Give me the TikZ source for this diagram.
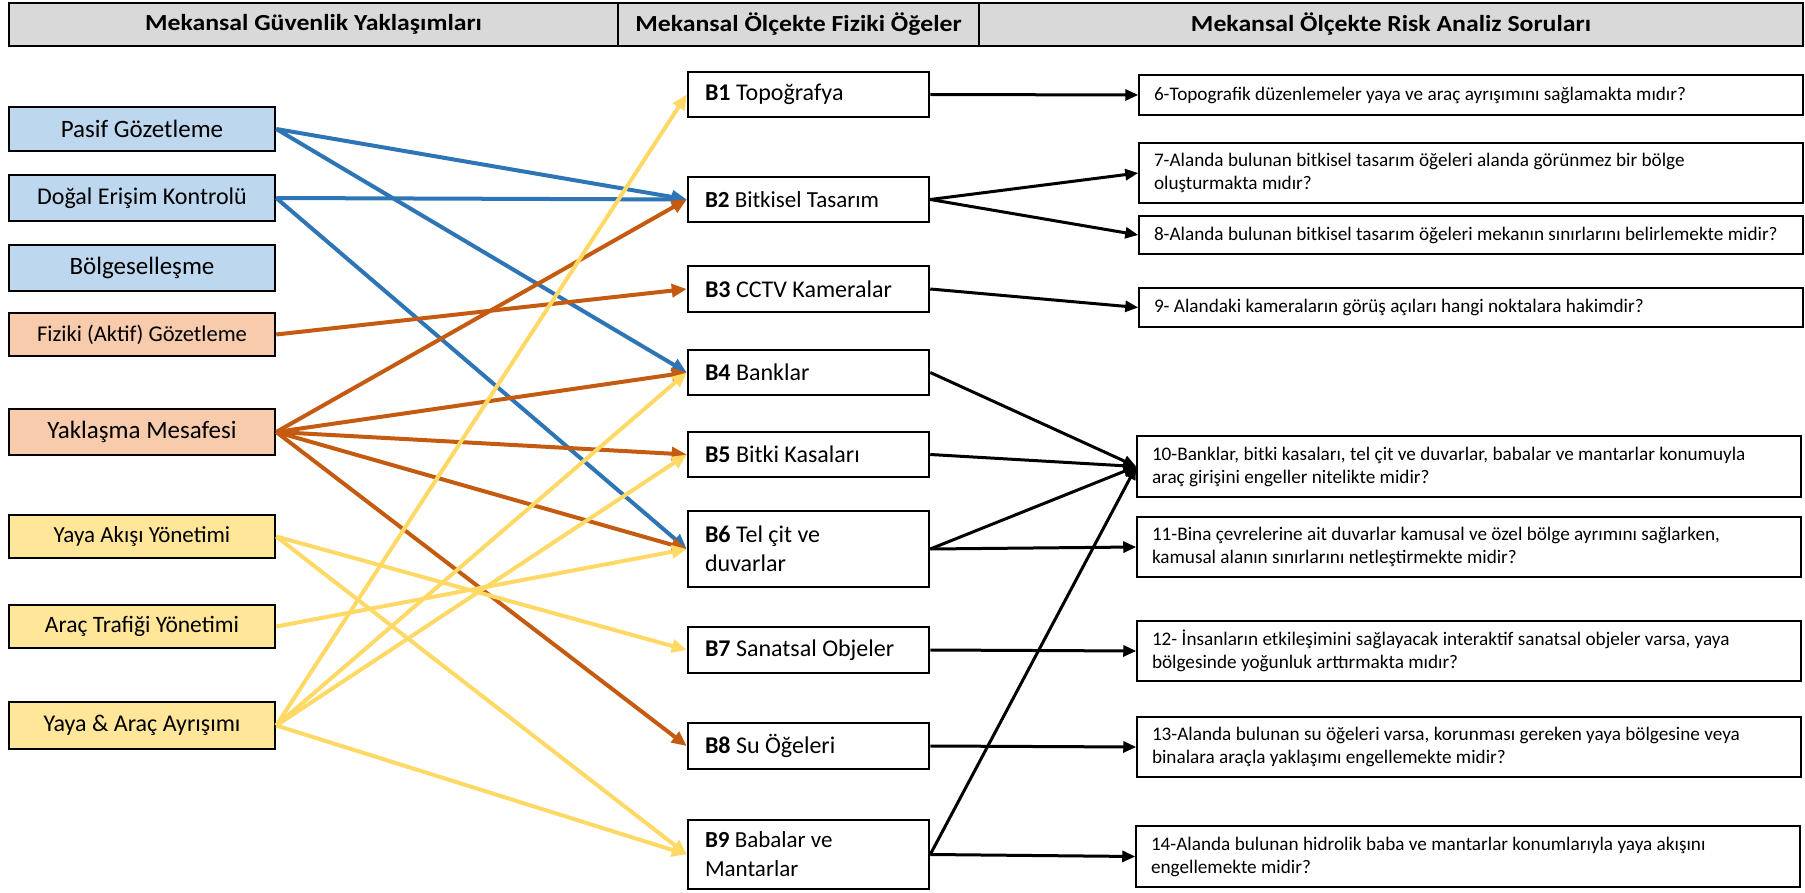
\documentclass[tikz,border=0pt]{standalone}
\usepackage{fontspec}
\setmainfont{Carlito}
\newfontfamily\headfont[FakeStretch=1.12]{Carlito}
\usetikzlibrary{arrows.meta}
\definecolor{hdrgray}{HTML}{D9D9D9}
\definecolor{fillblue}{HTML}{BDD7EE}
\definecolor{fillpeach}{HTML}{F8CBAD}
\definecolor{fillyellow}{HTML}{FFE699}
\definecolor{lineblue}{HTML}{2E75B6}
\definecolor{lineorange}{HTML}{C55A11}
\definecolor{lineyellow}{HTML}{FFD966}
\begin{document}
\begin{tikzpicture}[x=1pt,y=-1pt,
  every node/.append style={execute at begin node={\spaceskip=0pt\xspaceskip=0pt\relax}},
  hdrcell/.style={draw=black, line width=2.5pt, fill=hdrgray, inner sep=0pt,
    minimum height=43pt, font=\headfont\fontsize{23}{27}\selectfont\bfseries},
  approach/.style={draw=black, line width=2.5pt, inner sep=0pt,
    minimum width=266pt, align=flush center},
  apblue/.style={approach, fill=fillblue},
  appeach/.style={approach, fill=fillpeach},
  apyellow/.style={approach, fill=fillyellow},
  fs/.style={font=\fontsize{#1}{#1}\selectfont},
  element/.style={draw=black, line width=2.5pt, fill=white, text width=207pt,
    inner xsep=17pt, inner ysep=0pt, align=flush left,
    font=\fontsize{24}{29}\selectfont},
  question/.style={draw=black, line width=1.5pt, fill=white, text width=634pt,
    inner xsep=15pt, inner ysep=0pt, align=flush left,
    font=\fontsize{19.2}{23}\selectfont},
  link/.style={line width=4pt, -{Triangle[length=15pt,width=13pt]}},
  bluelink/.style={link, draw=lineblue},
  orangelink/.style={link, draw=lineorange},
  yellowlink/.style={link, draw=lineyellow},
  qlink/.style={draw=black, line width=3pt, -{Triangle[length=13pt,width=11pt]}}
]
\useasboundingbox (0,0) rectangle (1805,893);
\fill[white] (0,0) rectangle (1805,893);

% column headings
\node[hdrcell, minimum width=609pt] (h1) at (313.5,24.5) {Mekansal Güvenlik Yaklaşımları};
\node[hdrcell, minimum width=361pt] (h2) at (798.5,24.5) {Mekansal Ölçekte Fiziki Öğeler};
\node[hdrcell, minimum width=824pt] (h3) at (1391,24.5) {Mekansal Ölçekte Risk Analiz Soruları};

% spatial security approaches
\node[apblue,   fs=25,   minimum height=44pt] (L1) at (142,129)   {Pasif Gözetleme};
\node[apblue,   fs=24,   minimum height=46pt] (L2) at (142,198)   {Doğal Erişim Kontrolü};
\node[apblue,   fs=25,   minimum height=46pt] (L3) at (142,268)   {Bölgeselleşme};
\node[appeach,  fs=22.5, minimum height=43pt] (L4) at (142,334.5) {Fiziki (Aktif) Gözetleme};
\node[appeach,  fs=25,   minimum height=46pt] (L5) at (142,432)   {Yaklaşma Mesafesi};
\node[apyellow, fs=23,   minimum height=43pt] (L6) at (142,536.5) {Yaya Akışı Yönetimi};
\node[apyellow, fs=23.5, minimum height=43pt] (L7) at (142,626.5) {Araç Trafiği Yönetimi};
\node[apyellow, fs=24,   minimum height=47pt] (L8) at (142,725.5) {Yaya \& Araç Ayrışımı};

% physical elements
\node[element, minimum height=45pt] (B1) at (808.5,94.5)  {\textbf{B1} Topoğrafya};
\node[element, minimum height=45pt, font=\fontsize{23}{28}\selectfont] (B2) at (808.5,199.5) {\textbf{B2} Bitkisel Tasarım};
\node[element, minimum height=46pt] (B3) at (808.5,289)   {\textbf{B3} CCTV Kameralar};
\node[element, minimum height=45pt] (B4) at (808.5,372.5) {\textbf{B4} Banklar};
\node[element, minimum height=45pt] (B5) at (808.5,454.5) {\textbf{B5} Bitki Kasaları};
\node[element, minimum height=76pt] (B6) at (808.5,549)   {\textbf{B6} Tel çit ve\\duvarlar};
\node[element, minimum height=46pt] (B7) at (808.5,650)   {\textbf{B7} Sanatsal Objeler};
\node[element, minimum height=46pt] (B8) at (808.5,746)   {\textbf{B8} Su Öğeleri};
\node[element, minimum height=69pt, font=\fontsize{23}{29}\selectfont] (B9) at (808.5,854.5) {\textbf{B9} Babalar ve\\Mantarlar};

% risk analysis questions
\node[question, minimum height=40pt] (Q6)  at (1471,95)    {6-Topografik düzenlemeler yaya ve araç ayrışımını sağlamakta mıdır?};
\node[question, minimum height=60pt] (Q7)  at (1471,173)   {7-Alanda bulunan bitkisel tasarım öğeleri alanda görünmez bir bölge\\oluşturmakta mıdır?};
\node[question, minimum height=38pt] (Q8)  at (1471,235)   {8-Alanda bulunan bitkisel tasarım öğeleri mekanın sınırlarını belirlemekte midir?};
\node[question, minimum height=39pt] (Q9)  at (1471,307.5) {9- Alandaki kameraların görüş açıları hangi noktalara hakimdir?};
\node[question, minimum height=61pt] (Q10) at (1469,466.5) {10-Banklar, bitki kasaları, tel çit ve duvarlar, babalar ve mantarlar konumuyla\\araç girişini engeller nitelikte midir?};
\node[question, minimum height=60pt] (Q11) at (1469,547)   {11-Bina çevrelerine ait duvarlar kamusal ve özel bölge ayrımını sağlarken,\\kamusal alanın sınırlarını netleştirmekte midir?};
\node[question, minimum height=60pt] (Q12) at (1469,651)   {12- İnsanların etkileşimini sağlayacak interaktif sanatsal objeler varsa, yaya\\bölgesinde yoğunluk arttırmakta mıdır?};
\node[question, minimum height=60pt] (Q13) at (1469,747)   {13-Alanda bulunan su öğeleri varsa, korunması gereken yaya bölgesine veya\\binalara araçla yaklaşımı engellemekte midir?};
\node[question, minimum height=61pt] (Q14) at (1468,856.5) {14-Alanda bulunan hidrolik baba ve mantarlar konumlarıyla yaya akışını\\engellemekte midir?};

% approach -> element links
\draw[bluelink] (L1.east) -- (B2.west);
\draw[bluelink] (L1.east) -- (B4.west);
\draw[bluelink] (L2.east) -- (B2.west);
\draw[bluelink] (L2.east) -- (B6.west);

\draw[orangelink] (L4.east) -- (B3.west);
\draw[orangelink] (L5.east) -- (B2.west);
\draw[orangelink] (L5.east) -- (B4.west);
\draw[orangelink] (L5.east) -- (B5.west);
\draw[orangelink] (L5.east) -- (B6.west);
\draw[orangelink] (L5.east) -- (B8.west);

\draw[yellowlink] (L6.east) -- (B7.west);
\draw[yellowlink] (L6.east) -- (B9.west);
\draw[yellowlink] (L7.east) -- (B6.west);
\draw[yellowlink] (L8.east) -- (B1.west);
\draw[yellowlink] (L8.east) -- (B4.west);
\draw[yellowlink] (L8.east) -- (B5.west);
\draw[yellowlink] (L8.east) -- (B9.west);

% element -> question links
\draw[qlink] (B1.east) -- (Q6.west);
\draw[qlink] (B2.east) -- (Q7.west);
\draw[qlink] (B2.east) -- (Q8.west);
\draw[qlink] (B3.east) -- (Q9.west);
\draw[qlink] (B4.east) -- (Q10.west);
\draw[qlink] (B5.east) -- (Q10.west);
\draw[qlink] (B6.east) -- (Q10.west);
\draw[qlink] (B6.east) -- (Q11.west);
\draw[qlink] (B7.east) -- (Q12.west);
\draw[qlink] (B8.east) -- (Q13.west);
\draw[qlink] (B9.east) -- (Q10.west);
\draw[qlink] (B9.east) -- (Q14.west);
\end{tikzpicture}
\end{document}
